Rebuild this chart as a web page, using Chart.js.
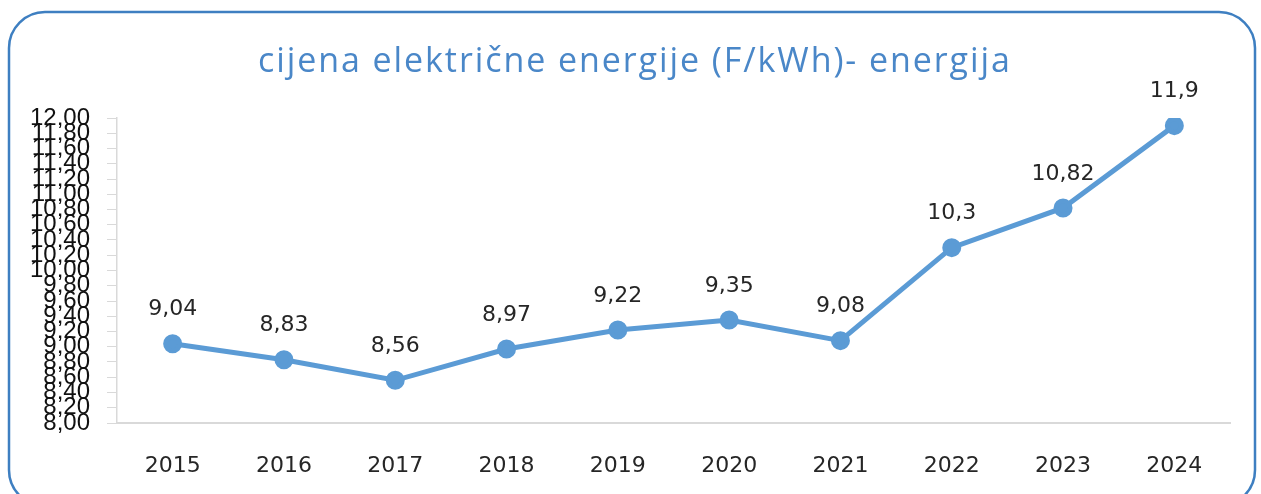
<!DOCTYPE html>
<html><head><meta charset="utf-8">
<script src="https://cdn.jsdelivr.net/npm/chart.js@4"></script>
<style>html,body{margin:0;padding:0;background:#fff;}#wrap{width:1261px;height:494px;position:relative;}</style>
</head><body>
<div id="wrap"><canvas id="c" width="1261" height="494"></canvas></div>
<script>
const titleText = 'cijena električne energije (F/kWh)- energija';
const years = ['2015','2016','2017','2018','2019','2020','2021','2022','2023','2024'];
const prices = [9.04, 8.83, 8.56, 8.97, 9.22, 9.35, 9.08, 10.3, 10.82, 11.9];
const yMin = 8, yMax = 12, yStep = 0.2;

const fmtTick = v => v.toFixed(2).replace('.', ',');
const fmtVal = v => String(v).replace('.', ',');

const frame = {
  id: 'frame',
  beforeDraw(chart) {
    const ctx = chart.ctx;
    ctx.save();
    ctx.fillStyle = '#fff';
    ctx.fillRect(0, 0, chart.width, chart.height);
    ctx.strokeStyle = '#3e7fc1';
    ctx.lineWidth = 2.5;
    ctx.beginPath();
    ctx.roundRect(9, 12, 1246, 494, 36);
    ctx.stroke();
    ctx.fillStyle = '#4a87c8';
    ctx.font = '30px "Open Sans"';
    let w = ctx.measureText(titleText).width;
    let size = Math.min(34, 30 * 752 / w);
    ctx.font = size.toFixed(1) + 'px "Open Sans"';
    w = ctx.measureText(titleText).width;
    const extra = Math.max(0, (752 - w) / (titleText.length - 1));
    ctx.letterSpacing = extra.toFixed(2) + 'px';
    ctx.textAlign = 'left';
    ctx.textBaseline = 'alphabetic';
    ctx.fillText(titleText, 258, 72);
    ctx.restore();
  },
  afterDatasetsDraw(chart) {
    const ctx = chart.ctx;
    const meta = chart.getDatasetMeta(0);
    ctx.save();
    ctx.fillStyle = '#262626';
    ctx.font = '22px "DejaVu Sans"';
    ctx.textAlign = 'center';
    ctx.textBaseline = 'middle';
    meta.data.forEach((pt, i) => {
      ctx.fillText(fmtVal(chart.data.datasets[0].data[i]), pt.x, pt.y - 34);
    });
    ctx.restore();
  }
};

new Chart(document.getElementById('c'), {
  type: 'line',
  data: {
    labels: years,
    datasets: [{
      data: prices,
      borderColor: '#5b9bd5',
      backgroundColor: '#5b9bd5',
      borderWidth: 5,
      pointRadius: 7,
      pointHoverRadius: 7,
      pointBackgroundColor: '#5b9bd5',
      pointBorderColor: '#5b9bd5',
      tension: 0
    }]
  },
  options: {
    responsive: false,
    animation: false,
    events: [],
    layout: { padding: { left: 20, right: 31, top: 118, bottom: 0 } },
    plugins: { legend: { display: false }, title: { display: false }, tooltip: { enabled: false } },
    scales: {
      x: {
        offset: true,
        grid: { display: false, drawTicks: false },
        border: { color: '#d9d9d9', width: 2 },
        ticks: { color: '#262626', font: { family: 'DejaVu Sans', size: 22 }, padding: 30, maxRotation: 0 },
        afterFit(s) { s.height = 71; }
      },
      y: {
        min: yMin, max: yMax,
        grid: { drawOnChartArea: false, color: '#d9d9d9', tickLength: 10 },
        border: { color: '#d9d9d9', width: 1.5 },
        ticks: {
          stepSize: yStep, autoSkip: false, color: '#111',
          font: { family: 'Liberation Sans', size: 24, lineHeight: 1 },
          padding: 17,
          callback: v => fmtTick(v)
        },
        afterFit(s) { s.width = 97; }
      }
    }
  },
  plugins: [frame]
});
</script>
</body></html>
